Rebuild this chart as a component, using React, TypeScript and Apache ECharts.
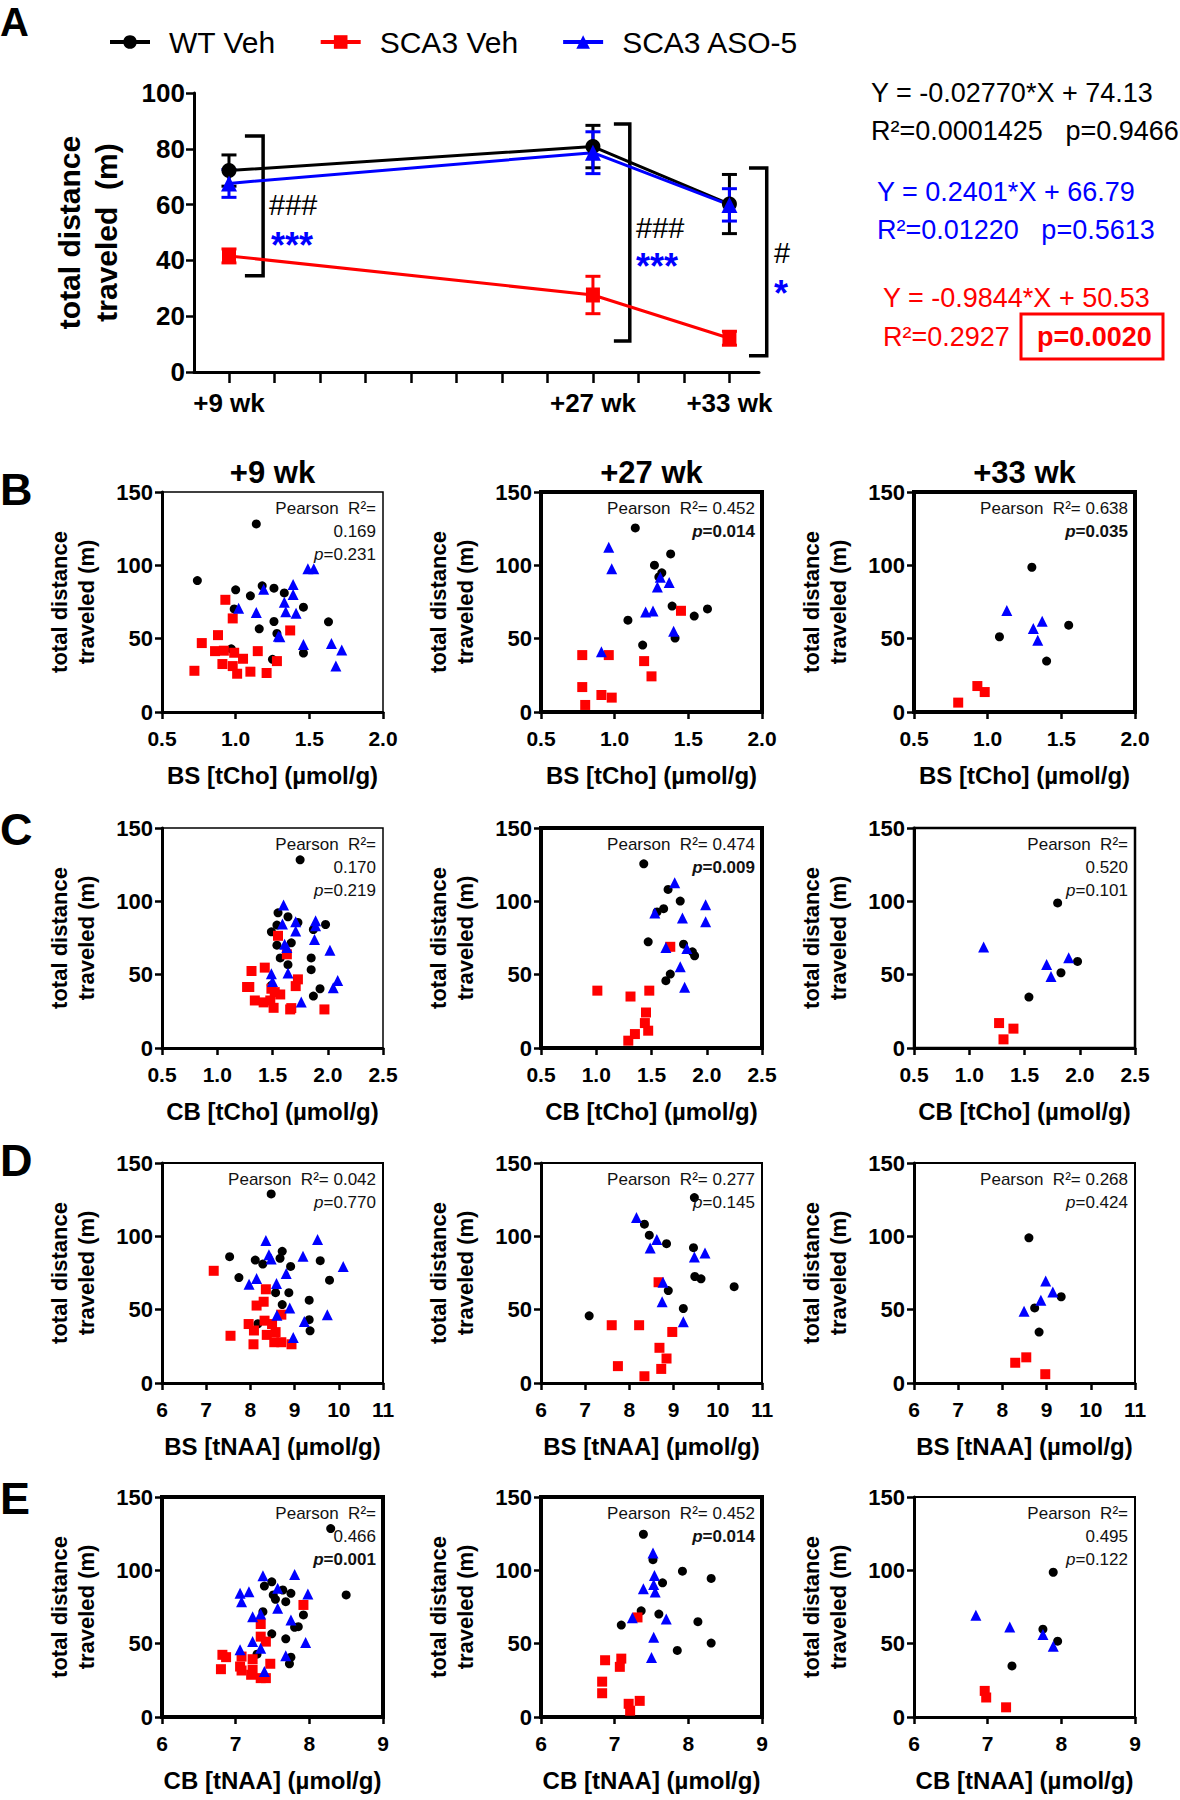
import React, { useEffect, useRef } from "react";
import * as echarts from "echarts";

// ---------------- groups ----------------
const groupNames = ["WT Veh", "SCA3 Veh", "SCA3 ASO-5"];
const groupColors = ["#000000", "#ff0000", "#0000ff"];
const groupSymbols = ["circle", "rect", "triangle"];

// ---------------- panel A ----------------
const timeLabels = ["+9 wk", "+27 wk", "+33 wk"];
const timeSlots = [0, 8, 11];
const timeTickSlots = [0, 1, 2, 3, 4, 5, 6, 7, 8, 9, 10, 11];
const wtVehMean = [72.2, 80.8, 60.2];
const wtVehSem = [5.6, 7.6, 10.6];
const sca3VehMean = [41.6, 27.6, 12.1];
const sca3VehSem = [2.5, 6.7, 2.5];
const sca3AsoMean = [67.6, 78.6, 59.9];
const sca3AsoSem = [5.0, 7.5, 5.8];
const bracketX = [[0.35, 0.75], [8.46, 8.81], [11.43, 11.82]];
const bracketY = [[84.6, 34.5], [88.9, 11.1], [73.1, 5.8]];
const hashMarks = ["###", "###", "#"];
const starMarks = ["***", "***", "*"];
const regressionEq = ["Y = -0.02770*X + 74.13", "Y = 0.2401*X + 66.79", "Y = -0.9844*X + 50.53"];
const regressionR2 = ["0.0001425", "0.01220", "0.2927"];
const regressionP = ["0.9466", "0.5613", "0.0020"];

// ---------------- scatter panels ----------------
const rowLetters = ["B", "C", "D", "E"];
const colTitles = ["+9 wk", "+27 wk", "+33 wk"];
const xAxisNames = ["BS [tCho] (µmol/g)", "CB [tCho] (µmol/g)", "BS [tNAA] (µmol/g)", "CB [tNAA] (µmol/g)"];
const xAxisMin = [0.5, 0.5, 6, 6];
const xAxisMax = [2.0, 2.5, 11, 9];
const xAxisStep = [0.5, 0.5, 1, 1];
const yTicks = [0, 50, 100, 150];
const pearsonR2 = [
  ["0.169", "0.452", "0.638"],
  ["0.170", "0.474", "0.520"],
  ["0.042", "0.277", "0.268"],
  ["0.466", "0.452", "0.495"],
];
const pearsonP = [
  ["0.231", "0.014", "0.035"],
  ["0.219", "0.009", "0.101"],
  ["0.770", "0.145", "0.424"],
  ["0.001", "0.014", "0.122"],
];

// B: BS tCho
const bs9Wt = [[1.14,128.2],[0.74,89.6],[1.00,83.3],[1.10,79.2],[1.18,86.0],[1.26,84.4],[1.33,81.2],[1.46,71.5],[0.99,70.3],[1.26,61.7],[1.16,56.7],[1.28,53.6],[1.63,61.5],[0.97,43.1],[1.46,40.2],[1.25,35.9]];
const bs9Veh = [[0.93,76.5],[0.98,63.8],[0.88,52.4],[0.77,47.0],[0.86,41.5],[0.92,41.8],[0.99,40.4],[1.05,36.3],[1.15,41.5],[0.91,32.7],[0.98,31.3],[1.01,26.1],[1.10,27.5],[1.21,26.6],[0.72,28.1],[1.37,55.6],[1.28,34.7]];
const bs9Aso = [[1.49,97.6],[1.53,97.6],[1.39,86.9],[1.39,80.1],[1.19,83.7],[1.33,74.9],[1.34,68.3],[1.41,67.4],[1.02,70.8],[1.14,67.9],[1.29,51.7],[1.30,51.3],[1.46,46.1],[1.65,46.7],[1.72,42.2],[1.68,31.3]];
const bs27Wt = [[1.14,125.5],[1.38,107.8],[1.27,100.1],[1.32,94.9],[1.30,92.1],[1.39,72.2],[1.63,70.3],[1.54,65.4],[1.09,62.6],[1.19,45.6],[1.41,50.4]];
const bs27Veh = [[0.78,38.8],[0.96,38.8],[1.20,34.7],[1.45,69.0],[1.25,24.3],[0.78,17.0],[0.91,11.6],[0.98,9.8],[0.80,4.8]];
const bs27Aso = [[0.96,112.3],[0.98,97.6],[1.31,91.9],[1.29,85.3],[1.37,88.3],[1.21,68.1],[1.26,68.8],[1.40,55.1],[0.91,41.1]];
const bs33Wt = [[1.30,98.7],[1.55,59.2],[1.08,51.3],[1.40,34.7]];
const bs33Veh = [[0.93,17.7],[0.98,13.6],[0.80,6.4]];
const bs33Aso = [[1.13,69.2],[1.37,61.9],[1.31,57.0],[1.34,49.0]];

// C: CB tCho
const cbCho9Wt = [[1.75,128.3],[1.55,92.2],[1.64,89.5],[1.54,83.8],[1.73,85.6],[1.49,79.2],[1.98,84.2],[1.87,80.8],[1.54,70.1],[1.67,71.7],[1.57,61.4],[1.64,56.8],[1.85,61.4],[1.85,53.4],[1.49,42.7],[1.87,35.4],[1.93,40.4]];
const cbCho9Veh = [[1.55,76.5],[1.63,63.9],[1.31,52.5],[1.43,54.8],[1.29,41.6],[1.27,41.6],[1.49,40.4],[1.52,38.1],[1.57,36.5],[1.73,46.8],[1.71,42.2],[1.34,32.4],[1.42,31.1],[1.48,32.4],[1.51,27.4],[1.66,26.3],[1.67,27.2],[1.97,26.3]];
const cbCho9Aso = [[1.60,97.5],[1.59,84.5],[1.71,86.1],[1.71,79.7],[1.89,86.8],[1.89,83.3],[1.88,74.0],[1.61,70.8],[1.63,68.5],[2.02,66.7],[1.49,50.7],[1.50,45.4],[1.64,51.1],[2.09,46.1],[2.05,41.1],[1.76,31.3]];
const cbCho27Wt = [[1.43,125.6],[1.65,108.1],[1.76,100.2],[1.61,95.0],[1.55,92.8],[1.47,72.4],[1.79,70.8],[1.87,65.6],[1.89,62.9],[1.67,50.4],[1.63,45.9]];
const cbCho27Veh = [[1.67,69.0],[1.01,39.1],[1.48,39.1],[1.31,35.1],[1.45,24.2],[1.44,17.0],[1.47,11.8],[1.35,9.5],[1.29,5.0]];
const cbCho27Aso = [[1.71,112.7],[1.53,92.1],[1.78,88.7],[1.99,97.7],[1.99,86.0],[1.63,68.5],[1.82,67.9],[1.76,55.4],[1.80,41.4]];
const cbCho33Wt = [[1.80,98.9],[1.98,59.0],[1.83,51.3],[1.54,34.7]];
const cbCho33Veh = [[1.27,17.0],[1.40,13.2],[1.31,5.9]];
const cbCho33Aso = [[1.13,68.8],[1.90,61.5],[1.70,57.0],[1.74,48.8]];

// D: BS tNAA
const bsNaa9Wt = [[8.47,128.9],[7.53,86.1],[8.11,83.8],[8.28,81.1],[8.72,89.8],[8.67,85.0],[8.91,79.5],[9.58,83.4],[9.79,70.1],[7.74,71.9],[8.57,61.6],[8.87,61.6],[9.33,56.5],[8.72,53.5],[8.17,40.4],[9.33,43.2],[9.35,35.6]];
const bsNaa9Veh = [[7.17,76.5],[8.35,63.9],[8.30,55.4],[8.14,52.8],[8.70,46.6],[7.96,40.2],[8.08,35.8],[8.32,42.5],[8.49,40.2],[8.37,32.8],[8.57,34.7],[7.55,32.2],[8.07,26.4],[8.54,27.8],[8.70,27.8],[8.93,26.4]];
const bsNaa9Aso = [[8.35,97.2],[9.52,97.9],[8.42,87.5],[8.47,84.5],[9.19,86.4],[10.10,79.5],[8.81,74.7],[8.59,67.8],[8.14,71.2],[7.97,67.3],[8.89,51.2],[8.60,46.2],[9.74,46.6],[9.22,42.0],[8.97,31.0]];
const bsNaa27Wt = [[9.47,126.4],[8.34,108.3],[8.45,100.8],[8.84,95.0],[9.45,92.3],[9.48,72.6],[9.62,71.0],[10.37,65.7],[8.88,63.0],[9.22,50.8],[7.09,45.8]];
const bsNaa27Veh = [[8.66,68.7],[7.60,39.4],[8.22,39.4],[8.97,34.8],[8.68,24.0],[8.84,16.7],[7.74,11.5],[8.72,9.6],[8.34,4.6]];
const bsNaa27Aso = [[8.16,112.9],[8.62,97.8],[8.47,92.1],[9.47,85.9],[9.71,88.6],[8.76,68.7],[8.74,55.4],[9.22,41.7]];
const bsNaa33Wt = [[8.60,99.0],[9.33,58.8],[8.73,51.2],[8.83,34.7]];
const bsNaa33Veh = [[8.54,17.5],[8.29,13.8],[8.97,6.0]];
const bsNaa33Aso = [[8.98,69.6],[9.14,62.0],[8.87,56.5],[8.49,48.9]];

// E: CB tNAA
const cbNaa9Wt = [[8.29,128.5],[8.50,83.2],[7.49,92.2],[7.39,89.3],[7.64,86.6],[7.75,84.3],[7.51,83.2],[7.54,80.2],[7.68,78.6],[7.37,71.8],[7.92,69.6],[7.85,61.6],[7.80,61.2],[7.49,56.7],[7.68,53.3],[7.29,42.8],[7.75,40.8],[7.73,36.3]];
const cbNaa9Veh = [[7.92,76.4],[7.34,63.4],[7.34,54.8],[7.41,51.4],[6.82,42.4],[6.87,40.8],[7.08,41.2],[7.23,39.4],[6.80,32.6],[7.06,34.4],[7.08,31.7],[7.21,28.8],[7.47,36.3],[7.34,26.5],[7.41,26.5],[7.23,32.2]];
const cbNaa9Aso = [[7.06,84.3],[7.08,78.6],[7.18,85.4],[7.37,96.3],[7.80,97.2],[7.57,87.7],[7.98,83.8],[7.57,74.1],[7.23,68.4],[7.34,70.2],[7.75,66.2],[7.95,50.8],[7.23,51.4],[7.34,46.9],[7.06,45.8],[7.68,41.7],[7.39,31.0]];
const cbNaa27Wt = [[7.39,124.6],[7.52,107.3],[7.92,99.4],[8.31,94.5],[7.65,91.5],[7.36,72.4],[7.60,70.2],[8.13,65.0],[7.09,62.7],[8.31,50.4],[7.85,45.4]];
const cbNaa27Veh = [[7.31,67.9],[6.87,38.7],[7.09,39.8],[7.07,34.2],[6.83,24.1],[6.83,16.2],[7.34,11.0],[7.19,9.0],[7.21,4.3]];
const cbNaa27Aso = [[7.52,111.8],[7.54,96.5],[7.53,90.4],[7.55,85.2],[7.39,87.5],[7.70,66.8],[7.24,67.7],[7.53,54.4],[7.50,40.5]];
const cbNaa33Wt = [[7.89,98.7],[7.75,59.9],[7.95,51.7],[7.33,34.8]];
const cbNaa33Veh = [[6.96,17.8],[6.98,13.3],[7.25,6.6]];
const cbNaa33Aso = [[6.84,69.4],[7.30,61.4],[7.75,56.2],[7.89,48.3]];

const panelData = [
  [[bs9Wt, bs9Veh, bs9Aso], [bs27Wt, bs27Veh, bs27Aso], [bs33Wt, bs33Veh, bs33Aso]],
  [[cbCho9Wt, cbCho9Veh, cbCho9Aso], [cbCho27Wt, cbCho27Veh, cbCho27Aso], [cbCho33Wt, cbCho33Veh, cbCho33Aso]],
  [[bsNaa9Wt, bsNaa9Veh, bsNaa9Aso], [bsNaa27Wt, bsNaa27Veh, bsNaa27Aso], [bsNaa33Wt, bsNaa33Veh, bsNaa33Aso]],
  [[cbNaa9Wt, cbNaa9Veh, cbNaa9Aso], [cbNaa27Wt, cbNaa27Veh, cbNaa27Aso], [cbNaa33Wt, cbNaa33Veh, cbNaa33Aso]],
];

// ---------------- layout (styling only) ----------------
const FONT = "'Liberation Sans', Arial, Helvetica, sans-serif";
const colLeft = [162, 541, 914];
const rowTop = [492, 828, 1163, 1497];
const plotW = 221;
const plotH = 220;
const frameWidth = [
  [1.5, 4, 4],
  [1.5, 4, 2.5],
  [2, 2, 2],
  [4, 4, 2],
];
const pearsonWrap = [
  [true, false, false],
  [true, false, true],
  [false, false, false],
  [true, false, true],
];
const symbolSizes = [9, 10, 11];

function txt(x: number, y: number, text: string, o: any = {}) {
  return {
    type: "text",
    x,
    y,
    silent: true,
    z: 100,
    style: {
      text,
      fill: o.fill || "#000",
      fontSize: o.fontSize || 16,
      fontWeight: o.fontWeight || "normal",
      fontStyle: o.fontStyle || "normal",
      fontFamily: o.fontFamily || FONT,
      align: o.align || "left",
      textAlign: o.align || "left",
      verticalAlign: o.va || "middle",
      textVerticalAlign: o.va || "middle",
      rich: o.rich,
    },
  };
}

function buildOption() {
  const grid: any[] = [];
  const xAxis: any[] = [];
  const yAxis: any[] = [];
  const series: any[] = [];
  const graphic: any[] = [];

  const axisLineStyle = { color: "#000", width: 3 };
  const tickStyle = { color: "#000", width: 2.5 };

  // ---------- Panel A ----------
  grid.push({ left: 194, top: 93, width: 565, height: 279 });
  xAxis.push({
    gridIndex: 0,
    type: "value",
    min: -0.769,
    max: 11.65,
    axisLine: { show: true, onZero: false, lineStyle: axisLineStyle },
    axisTick: { show: true, customValues: timeTickSlots, length: 11, lineStyle: tickStyle },
    axisLabel: {
      customValues: timeSlots,
      formatter: (v: number) => {
        const i = timeSlots.indexOf(Math.round(v));
        return i >= 0 ? timeLabels[i] : "";
      },
      fontSize: 26,
      fontWeight: "bold",
      fontFamily: FONT,
      color: "#000",
      margin: 18,
    },
    splitLine: { show: false },
  });
  yAxis.push({
    gridIndex: 0,
    type: "value",
    min: 0,
    max: 100,
    interval: 20,
    axisLine: { show: true, onZero: false, lineStyle: axisLineStyle },
    axisTick: { show: true, length: 8, lineStyle: tickStyle },
    axisLabel: { fontSize: 26, fontWeight: "bold", fontFamily: FONT, color: "#000", margin: 9 },
    splitLine: { show: false },
    name: "total distance\ntraveled  (m)",
    nameLocation: "middle",
    nameGap: 69,
    nameTextStyle: { fontSize: 30, fontWeight: "bold", fontFamily: FONT, color: "#000", lineHeight: 37 },
  });

  const means = [wtVehMean, sca3VehMean, sca3AsoMean];
  const sems = [wtVehSem, sca3VehSem, sca3AsoSem];
  const symSizeA: any[] = [15, [14, 15], 16];
  for (let g = 0; g < 3; g++) {
    series.push({
      name: groupNames[g],
      type: "line",
      xAxisIndex: 0,
      yAxisIndex: 0,
      data: timeSlots.map((s, i) => [s, means[g][i]]),
      symbol: groupSymbols[g],
      symbolSize: symSizeA[g],
      showAllSymbol: true,
      lineStyle: { color: groupColors[g], width: 3 },
      itemStyle: { color: groupColors[g] },
      z: 4,
      silent: true,
    });
  }
  for (let g = 0; g < 3; g++) {
    const color = groupColors[g];
    series.push({
      type: "custom",
      xAxisIndex: 0,
      yAxisIndex: 0,
      silent: true,
      z: 3,
      encode: { x: 0, y: [1, 2] },
      data: timeSlots.map((s, i) => [s, means[g][i] - sems[g][i], means[g][i] + sems[g][i]]),
      renderItem: (params: any, api: any) => {
        const lo = api.coord([api.value(0), api.value(1)]);
        const hi = api.coord([api.value(0), api.value(2)]);
        const w = 7.5;
        const style = { stroke: color, lineWidth: 3, fill: "none" };
        return {
          type: "group",
          children: [
            { type: "line", shape: { x1: lo[0], y1: lo[1], x2: hi[0], y2: hi[1] }, style },
            { type: "line", shape: { x1: lo[0] - w, y1: lo[1], x2: lo[0] + w, y2: lo[1] }, style },
            { type: "line", shape: { x1: hi[0] - w, y1: hi[1], x2: hi[0] + w, y2: hi[1] }, style },
          ],
        };
      },
    });
  }
  series.push({
    type: "custom",
    xAxisIndex: 0,
    yAxisIndex: 0,
    silent: true,
    clip: false,
    z: 2,
    encode: { x: [0, 1], y: [2, 3] },
    data: bracketX.map((bx, i) => [bx[0], bx[1], bracketY[i][0], bracketY[i][1]]),
    renderItem: (params: any, api: any) => {
      const a = api.coord([api.value(0), api.value(2)]);
      const b = api.coord([api.value(1), api.value(2)]);
      const c = api.coord([api.value(1), api.value(3)]);
      const d = api.coord([api.value(0), api.value(3)]);
      return {
        type: "polyline",
        shape: { points: [a, b, c, d] },
        style: { stroke: "#000", lineWidth: 3.5, fill: "none" },
      };
    },
  });

  // significance marks
  const hashPos = [[269, 205], [636, 228], [774, 253]];
  const starPos = [[271, 245], [636, 266], [774, 293]];
  hashMarks.forEach((h, i) =>
    graphic.push(txt(hashPos[i][0], hashPos[i][1], h, { fontSize: 29 }))
  );
  starMarks.forEach((s, i) =>
    graphic.push(txt(starPos[i][0], starPos[i][1], s, { fontSize: 36, fontWeight: "bold", fill: "#0000ff" }))
  );

  // regression texts
  const regX = [871, 877, 883];
  const regY = [93, 192, 298];
  const regColor = ["#000000", "#0000ff", "#ff0000"];
  for (let g = 0; g < 3; g++) {
    graphic.push(txt(regX[g], regY[g], regressionEq[g], { fontSize: 27, fill: regColor[g] }));
    if (g < 2) {
      graphic.push(
        txt(regX[g], regY[g] + 38, "R²=" + regressionR2[g] + "   p=" + regressionP[g], { fontSize: 27, fill: regColor[g] })
      );
    } else {
      graphic.push(txt(regX[g], regY[g] + 39, "R²=" + regressionR2[g], { fontSize: 27, fill: regColor[g] }));
      graphic.push(
        txt(1037, regY[g] + 39, "p=" + regressionP[g], { fontSize: 27, fontWeight: "bold", fill: regColor[g] })
      );
      graphic.push({
        type: "rect",
        silent: true,
        z: 100,
        shape: { x: 1021, y: 314, width: 142, height: 45 },
        style: { fill: "none", stroke: "#ff0000", lineWidth: 3 },
      });
    }
  }

  // panel letters
  graphic.push(txt(0, 2, "A", { fontSize: 40, fontWeight: "bold", va: "top" }));
  const letterY = [489, 829, 1160, 1498];
  rowLetters.forEach((l, r) => graphic.push(txt(0, letterY[r], l, { fontSize: 45, fontWeight: "bold" })));

  // column titles
  colTitles.forEach((t, c) =>
    graphic.push(txt(colLeft[c] + plotW / 2, 472, t, { fontSize: 31, fontWeight: "bold", align: "center" }))
  );

  // ---------- scatter panels ----------
  let idx = 1;
  for (let r = 0; r < 4; r++) {
    for (let c = 0; c < 3; c++) {
      const left = colLeft[c];
      const top = rowTop[r];
      grid.push({
        left,
        top,
        width: plotW,
        height: plotH,
        show: true,
        borderColor: "#000",
        borderWidth: frameWidth[r][c],
        backgroundColor: "transparent",
      });
      const dec = xAxisStep[r] < 1 ? 1 : 0;
      xAxis.push({
        gridIndex: idx,
        type: "value",
        min: xAxisMin[r],
        max: xAxisMax[r],
        interval: xAxisStep[r],
        axisLine: { show: true, onZero: false, lineStyle: axisLineStyle },
        axisTick: { show: true, length: 7, lineStyle: tickStyle },
        axisLabel: {
          fontSize: 21,
          fontWeight: "bold",
          fontFamily: FONT,
          color: "#000",
          margin: 16,
          formatter: (v: number) => v.toFixed(dec),
        },
        splitLine: { show: false },
        name: xAxisNames[r],
        nameLocation: "middle",
        nameGap: 51,
        nameTextStyle: { fontSize: 24, fontWeight: "bold", fontFamily: FONT, color: "#000" },
      });
      yAxis.push({
        gridIndex: idx,
        type: "value",
        min: yTicks[0],
        max: yTicks[yTicks.length - 1],
        interval: yTicks[1] - yTicks[0],
        axisLine: { show: true, onZero: false, lineStyle: axisLineStyle },
        axisTick: { show: true, length: 7, lineStyle: tickStyle },
        axisLabel: { fontSize: 22, fontWeight: "bold", fontFamily: FONT, color: "#000", margin: 9 },
        splitLine: { show: false },
        name: "total distance\ntraveled (m)",
        nameLocation: "middle",
        nameGap: 62,
        nameTextStyle: { fontSize: 22, fontWeight: "bold", fontFamily: FONT, color: "#000", lineHeight: 27 },
      });
      [0, 1, 2].forEach((g) => {
        series.push({
          name: groupNames[g] + " " + rowLetters[r] + colTitles[c],
          type: "scatter",
          xAxisIndex: idx,
          yAxisIndex: idx,
          data: panelData[r][c][g],
          symbol: groupSymbols[g],
          symbolSize: symbolSizes[g],
          itemStyle: { color: groupColors[g], opacity: 1 },
          silent: true,
          z: 3 + g,
        });
      });

      // Pearson annotation
      const rx = left + plotW - 7;
      const sig = parseFloat(pearsonP[r][c]) < 0.05;
      const fs = 17;
      const rich = {
        it: { fontStyle: "italic", fontWeight: sig ? "bold" : "normal", fontSize: fs, fontFamily: FONT, fill: "#111", color: "#111" },
        v: { fontWeight: sig ? "bold" : "normal", fontSize: fs, fontFamily: FONT, fill: "#111", color: "#111" },
      };
      const pLine = "{it|p}{v|=" + pearsonP[r][c] + "}";
      if (pearsonWrap[r][c]) {
        graphic.push(txt(rx, top + 16, "Pearson  R²=", { align: "right", fill: "#111", fontSize: fs }));
        graphic.push(txt(rx, top + 39, pearsonR2[r][c], { align: "right", fill: "#111", fontSize: fs }));
        graphic.push(txt(rx, top + 62, pLine, { align: "right", rich, fontSize: fs }));
      } else {
        graphic.push(txt(rx, top + 16, "Pearson  R²= " + pearsonR2[r][c], { align: "right", fill: "#111", fontSize: fs }));
        graphic.push(txt(rx, top + 39, pLine, { align: "right", rich, fontSize: fs }));
      }
      idx++;
    }
  }

  return {
    animation: false,
    backgroundColor: "#ffffff",
    textStyle: { fontFamily: FONT },
    legend: {
      data: groupNames,
      left: 108,
      top: 27,
      padding: 0,
      itemGap: 43,
      itemWidth: 40,
      itemHeight: 17,
      selectedMode: false,
      lineStyle: { width: 4 },
      textStyle: { fontSize: 30, fontFamily: FONT, color: "#000", padding: [0, 0, 0, 14] },
    },
    grid,
    xAxis,
    yAxis,
    series,
    graphic,
  };
}

export default function App() {
  const ref = useRef<HTMLDivElement>(null);
  useEffect(() => {
    document.body.style.margin = "0";
    if (!ref.current) return;
    const chart = echarts.init(ref.current, null, { renderer: "svg" });
    chart.setOption(buildOption() as any);
    return () => chart.dispose();
  }, []);
  return <div ref={ref} style={{ width: 1180, height: 1800, background: "#fff" }} />;
}
